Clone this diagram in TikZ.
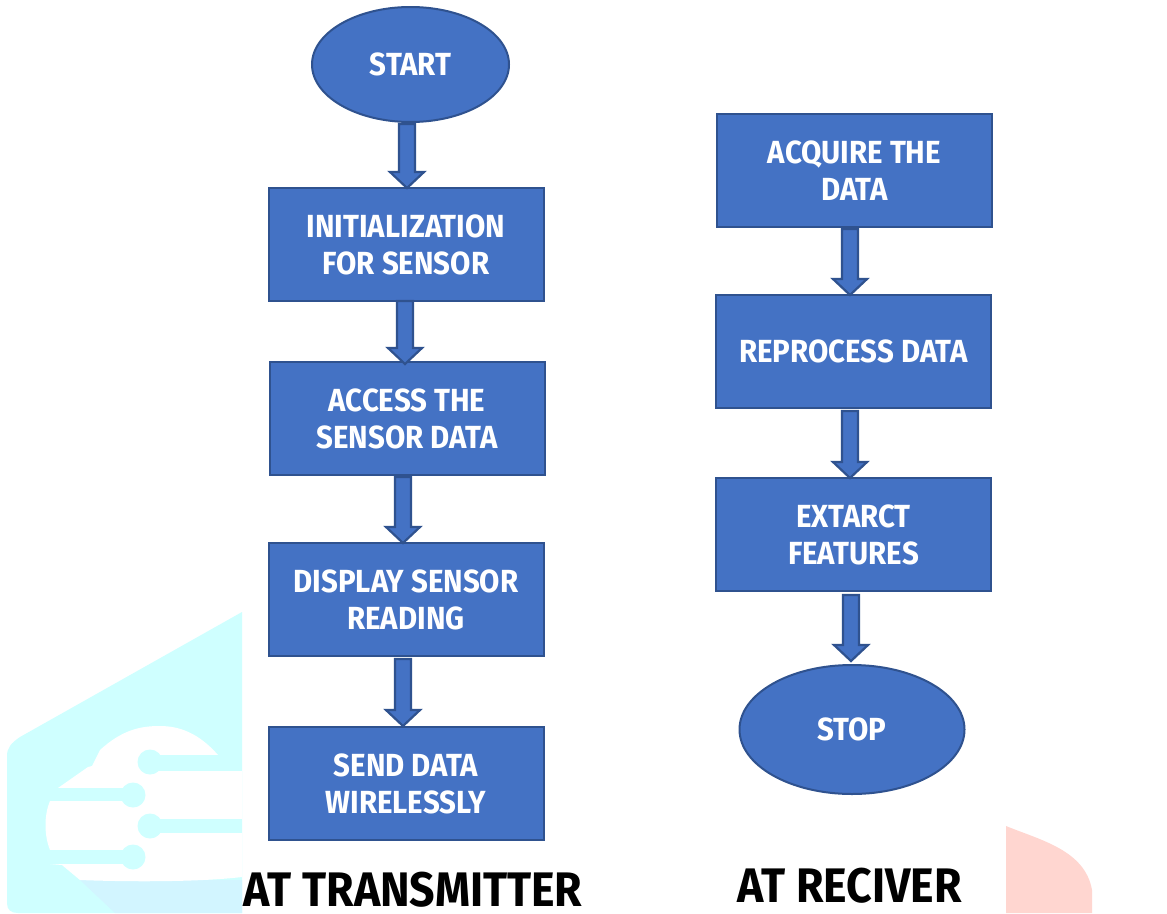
\documentclass[tikz,border=0pt]{standalone}
\usepackage{fontspec}
\setmainfont{Fira Sans}[FakeStretch=0.92]
\usetikzlibrary{shapes.geometric,calc}
\definecolor{boxblue}{HTML}{4472C4}
\definecolor{boxedge}{HTML}{2F528F}
\definecolor{wmcyan}{HTML}{CFFFFF}
\definecolor{wmblue}{HTML}{D2F5FF}
\definecolor{wmpink}{HTML}{FFD6D0}
\tikzset{
  x=1pt,y=-1pt,
  flowbase/.style={draw=boxedge,line width=2pt,fill=boxblue,text=white,inner sep=0pt,outer sep=0pt,align=center,
    font=\fontsize{32}{37}\selectfont\bfseries},
  flowbox/.style={flowbase,rectangle,minimum width=275pt,minimum height=113pt},
  flowend/.style={flowbase,ellipse},
  flowarrow/.style={draw=boxedge,line width=2.2pt,fill=boxblue,line join=miter},
  caption/.style={inner sep=0pt,text=black,font=\fontsize{48.5}{52}\selectfont\bfseries}
}
% block arrow: from node #1 to node #2 at absolute x #3, with gaps #4 and #5 (px) at its ends
\newcommand{\blockarrow}[5]{%
  \draw[flowarrow] let \p1=(#1.south),\p2=(#2.north) in
    (#3-8,\y1-#4) -- (#3+8,\y1-#4) -- (#3+8,\y2+16+#5) -- (#3+17,\y2+16+#5)
    -- (#3,\y2+#5) -- (#3-17,\y2+16+#5) -- (#3-8,\y2+16+#5) -- cycle;}
\begin{document}
\begin{tikzpicture}
\useasboundingbox (0,0) rectangle (1167,913);
\fill[white] (0,0) rectangle (1167,913);
% watermark, left
\begin{scope}
\clip (0,0) rectangle (242,913);
\fill[wmcyan] (242,612) -- (20,737) .. controls (11,743) and (7,748) .. (7,756) -- (7,903)
  .. controls (7,910) and (11,913) .. (18,913) -- (242,913) -- cycle;
\fill[wmblue] (80,880) -- (115,913) -- (242,913) -- (242,880) -- cycle;
\fill[white] (58,788) -- (88,767) -- (92,766) -- (100,750)
  .. controls (122,730) and (140,726) .. (160,726)
  .. controls (185,726) and (203,738) .. (218,755)
  -- (242,755) -- (242,877) .. controls (200,882) and (130,882) .. (80,880)
  -- (62,865) -- (50,864) -- (50,850) .. controls (44,835) and (44,815) .. (50,801) -- (58,801) -- cycle;
\fill[wmcyan] (150,755) rectangle (242,771);
\fill[wmcyan] (150,762) circle (12.5);
\fill[wmcyan] (58,788) rectangle (133,801);
\fill[wmcyan] (133,795) circle (12.5);
\fill[wmcyan] (150,819) rectangle (242,833);
\fill[wmcyan] (150,826) circle (12.5);
\fill[wmcyan] (50,850) rectangle (133,864);
\fill[wmcyan] (133,857) circle (12.5);
\end{scope}
% watermark, right
\fill[wmpink] (1006,826) .. controls (1040,840) and (1085,850) .. (1092,890)
  -- (1092,913) -- (1006,913) -- cycle;
% transmitter
\node[flowend,minimum width=197pt,minimum height=115pt] (start) at (410.5,64.5) {START};
\node[flowbox] (init) at (406,244.5) {INITIALIZATION\\FOR SENSOR};
\node[flowbox] (access) at (407,418.5) {ACCESS THE\\SENSOR DATA};
\node[flowbox] (display) at (406,599.5) {DISPLAY SENSOR\\READING};
\node[flowbox] (send) at (406,783.5) {SEND DATA\\WIRELESSLY};
\node[caption] (txcap) at (413,890) {AT TRANSMITTER};
% receiver
\node[flowbox] (acquire) at (854.5,170.5) {ACQUIRE THE\\DATA};
\node[flowbox] (reprocess) at (853.5,351.5) {REPROCESS DATA};
\node[flowbox] (extract) at (853.5,534.5) {EXTARCT\\FEATURES};
\node[flowend,minimum width=225pt,minimum height=129pt] (stop) at (852,729.5) {STOP};
\node[caption] (rxcap) at (849.5,886) {AT RECIVER};
% arrows
\blockarrow{start}{init}{407}{2}{0}
\blockarrow{init}{access}{405}{0}{-2}
\blockarrow{access}{display}{403}{2}{0}
\blockarrow{display}{send}{403}{3}{1}
\blockarrow{acquire}{reprocess}{850}{2}{0}
\blockarrow{reprocess}{extract}{850}{3}{0}
\blockarrow{extract}{stop}{851}{4}{4}
\end{tikzpicture}
\end{document}
